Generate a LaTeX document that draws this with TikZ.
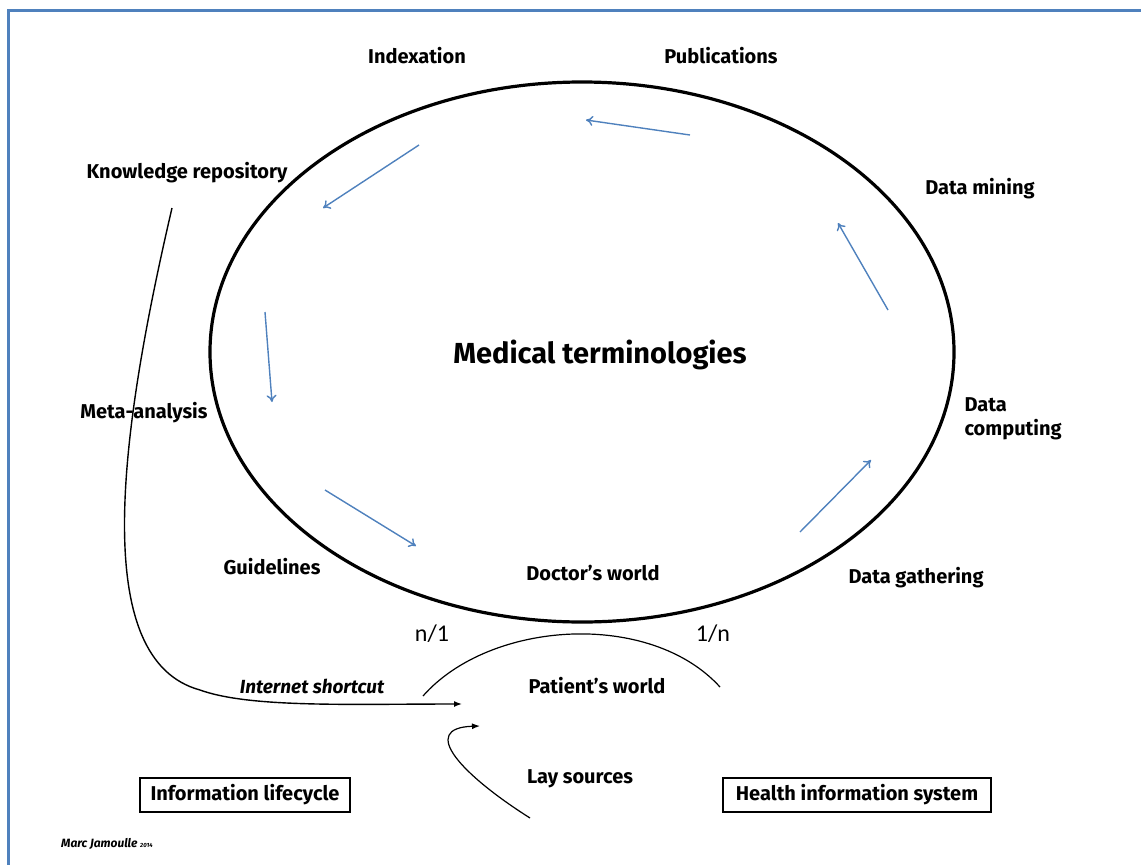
\documentclass[tikz,border=0pt]{standalone}
\usepackage{fontspec}
\setmainfont{Fira Sans}
\newfontfamily\calib{Carlito}
\usetikzlibrary{arrows.meta}
\definecolor{cycleblue}{HTML}{4F81BD}
\tikzset{lbl/.style={font=\bfseries\fontsize{20}{24}\selectfont},
  cyc/.style={cycleblue,line width=1.4pt,-{To[length=7pt,width=10pt]}},
  lifebox/.style={lbl,draw,line width=1.5pt,minimum height=34pt,inner xsep=6pt}}

\begin{document}
\begin{tikzpicture}[x=1pt,y=-1pt]
\useasboundingbox (0,0) rectangle (1141,865);
\draw[cycleblue,line width=3pt](8,865)--(8,10)--(1141,10);
\draw[line width=3.2pt](582,352) ellipse (372 and 270);
\node (med) at (600,355)[font=\bfseries\fontsize{29}{34}\selectfont]{Medical terminologies};
\node[lbl] (idx) at (417,56){Indexation};
\node[lbl] (pub) at (721,56){Publications};
\node[lbl] (know) at (187,173){Knowledge repository};
\node[lbl] (mine) at (980,189){Data mining};
\node[lbl] (meta) at (144,413){Meta-analysis};
\node[lbl,align=left,anchor=west] (comp) at (961,419){Data\\computing};
\node[lbl] (guide) at (272,567){Guidelines};
\node[lbl] (doc) at (593,573){Doctor’s world};
\node[lbl] (gath) at (916,578){Data gathering};
\node[font=\calib\fontsize{24}{28}\selectfont] (n1) at (432,634){n/1};
\node[font=\calib\fontsize{24}{28}\selectfont] (1n) at (713,634){1/n};
\node[lbl,font=\bfseries\itshape\fontsize{19}{22}\selectfont] (net) at (312,686){Internet shortcut};
\node[lbl] (pat) at (597,686){Patient’s world};
\node[lbl] (lay) at (580,779){Lay sources};
\node[lifebox,minimum width=210pt] (life) at (245,795){Information lifecycle};
\node[lifebox,minimum width=268pt] (his) at (857,795){Health information system};
\node[font=\bfseries\itshape\fontsize{12}{14}\selectfont,anchor=west,inner sep=0pt] (auth) at (61,844){Marc Jamoulle {\fontsize{6}{7}\selectfont 2014}};
\draw[cyc](690,135)--(586,120);
\draw[cyc](419,145)--(323,208);
\draw[cyc](265,312)--(272,402);
\draw[cyc](325,490)--(416,546);
\draw[cyc](800,532)--(871,460);
\draw[cyc](888,310)--(838,223);
\coordinate (k0) at (172,208);
\coordinate (p0) at (462,704);
\coordinate (l0) at (530,818);
\coordinate (l1) at (480,726);
\draw[line width=1.4pt,-{Latex[length=8pt,width=6pt]}](k0) .. controls (118,440) and (90,660) .. (200,690) .. controls (250,708) and (350,704) .. (p0);
\draw[line width=1.2pt](423,696) .. controls (490,620) and (650,610) .. (720,687);
\draw[line width=1.2pt,-{Latex[length=8pt,width=6pt]}](l0) .. controls (462,775) and (418,728) .. (l1);
\end{tikzpicture}
\end{document}
